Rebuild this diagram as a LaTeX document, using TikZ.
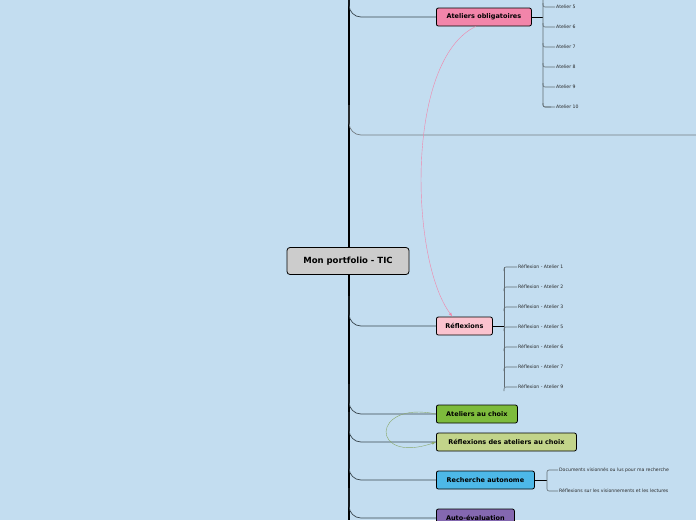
\documentclass[tikz,border=0pt]{standalone}
\usepackage{fontspec}
\setmainfont{DejaVu Sans}
\usepackage{tikz}
\definecolor{bgblue}{HTML}{C3DDF0}
\definecolor{pinkA}{HTML}{F285AA}
\definecolor{pinkB}{HTML}{FBC3CF}
\definecolor{greenA}{HTML}{7DBB3C}
\definecolor{greenB}{HTML}{C2D48A}
\definecolor{blueA}{HTML}{4DB8E8}
\definecolor{purpleA}{HTML}{8468B0}
\definecolor{linegray}{HTML}{3A4750}
\tikzset{
    topic/.style={draw=black, rounded corners=2pt, thick, font=\bfseries\fontsize{6.5}{7}\selectfont, inner sep=0pt, minimum height=18pt, anchor=west},
    leaf/.style={font=\fontsize{4.6}{5}\selectfont, text=black!85, anchor=west, inner sep=1pt},
    branch/.style={draw=linegray, line width=0.7pt, rounded corners=12pt},
    twig/.style={draw=linegray!80, line width=0.6pt, rounded corners=2pt}
}
\begin{document}
\begin{tikzpicture}[x=1pt,y=-1pt]
    \fill[bgblue] (0,0) rectangle (696,520);
    \useasboundingbox (0,0) rectangle (696,520);
    % trunk
    \draw[line width=2pt] (349,0) -- (349,520);
    % main topics
    \node[topic, fill=pinkA, minimum width=95pt] (oblig) at (436,17) {Ateliers obligatoires};
    \node[topic, fill=pinkB, minimum width=56pt] (refl) at (436,326) {Réflexions};
    \node[topic, fill=greenA, minimum width=81pt] (choix) at (436,414) {Ateliers au choix};
    \node[topic, fill=greenB, minimum width=140pt] (reflchoix) at (436,442) {Réflexions des ateliers au choix};
    \node[topic, fill=blueA, minimum width=98pt] (recherche) at (436,480) {Recherche autonome};
    \node[topic, fill=purpleA, minimum width=78pt] (auto) at (436,518) {Auto-évaluation};
    \node[draw=black, thick, rounded corners=3pt, fill=black!20, font=\bfseries\fontsize{8.5}{9}\selectfont,
          minimum width=122pt, minimum height=27pt] (root) at (348,261) {Mon portfolio - TIC};
    \coordinate (edge) at (696,135);
    % branches
    \foreach \t/\y in {oblig/17, refl/326, choix/414, reflchoix/442, recherche/480, auto/518}
        \draw[branch] (349,\y-30) -- (349,\y) -- (\t.west);
    \draw[branch, draw=linegray!70] (349,105) -- (349,135) -- (edge);
    % ateliers obligatoires
    \draw[thick] (oblig.east) -- (543,17);
    \draw[twig] (543,0) -- (543,107) -- (551,107);
    \foreach \n/\y in {5/7, 6/27, 7/47, 8/67, 9/87, 10/107} {
        \node[leaf] (at\n) at (555,\y) {Atelier \n};
        \draw[twig] (543,\y-4) -- (543,\y) -- (at\n.west);
    }
    % reflexions
    \draw[thick] (refl.east) -- (504,326);
    \draw[twig] (504,267) -- (504,387);
    \foreach \n/\y in {1/267, 2/287, 3/307, 5/327, 6/347, 7/367, 9/387} {
        \node[leaf] (ra\n) at (517,\y) {Réflexion - Atelier \n};
        \draw[twig] (504,\y+4) -- (504,\y) -- (ra\n.west);
    }
    % recherche autonome
    \draw[line width=0.6pt] (recherche.east) -- (547,480);
    \node[leaf] (docs) at (558,470) {Documents visionnés ou lus pour ma recherche};
    \node[leaf] (refvis) at (558,491) {Réflexions sur les visionnements et les lectures};
    \draw[twig] (docs.west) -- (547,470) -- (547,491) -- (refvis.west);
    % relations
    \draw[pinkA, -latex] ([xshift=-8pt]oblig.south) .. controls (405,60) and (410,260) .. ([xshift=-12pt]refl.north);
    \draw[greenA!70!black!70, -latex] (choix.west) .. controls (370,400) and (370,465) .. (reflchoix.west);
\end{tikzpicture}
\end{document}
